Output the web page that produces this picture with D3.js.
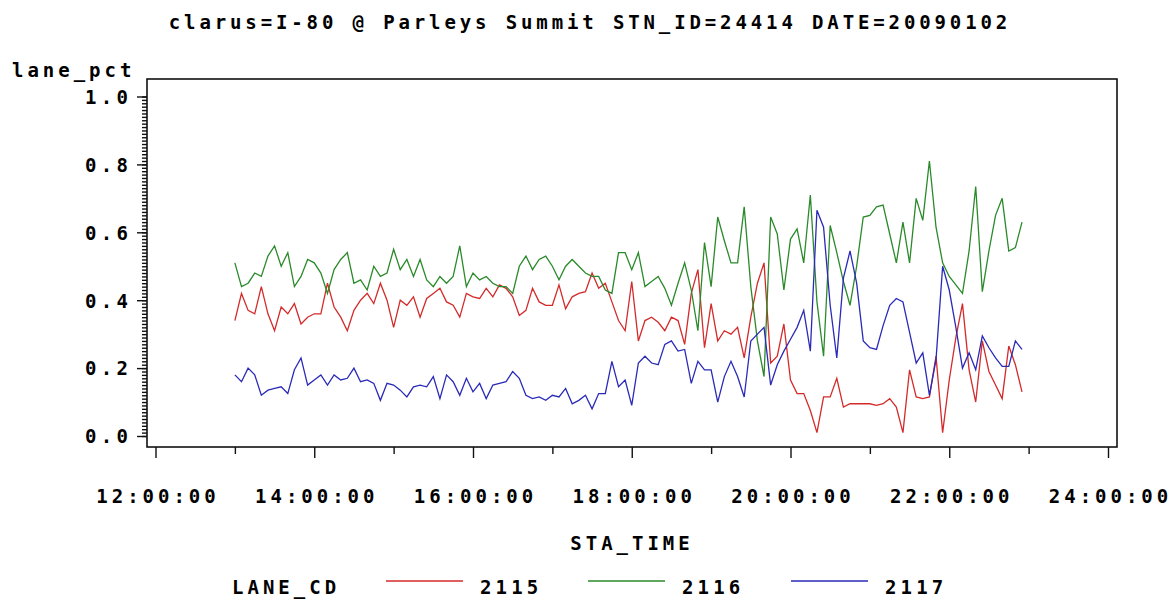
<!DOCTYPE html>
<html>
<head>
<meta charset="utf-8">
<script src="https://cdn.jsdelivr.net/npm/d3@7"></script>
<style>
  body { margin: 0; background: #fff; }
  text { font-family: "DejaVu Sans Mono", monospace; font-weight: bold; fill: #000; }
</style>
</head>
<body>
<div id="chart-area"></div>
<script>
/*
*    lane_pct by STA_TIME
*/

const width = 1175;
const height = 602;

// Data: one reading every 5 minutes, 13:00 to 22:55
const startHour = 13;
const stepMinutes = 5;

const lane2115 = [
    0.34, 0.42, 0.37, 0.36, 0.44, 0.36, 0.31, 0.38, 0.36, 0.39, 0.33, 0.35,
    0.36, 0.36, 0.45, 0.38, 0.35, 0.31, 0.37, 0.40, 0.42, 0.39, 0.45, 0.40,
    0.32, 0.40, 0.385, 0.41, 0.35, 0.405, 0.42, 0.435, 0.395, 0.385, 0.35, 0.42,
    0.41, 0.405, 0.435, 0.41, 0.445, 0.435, 0.41, 0.355, 0.37, 0.435, 0.395, 0.385,
    0.385, 0.445, 0.375, 0.41, 0.42, 0.425, 0.48, 0.435, 0.45, 0.395, 0.34, 0.31,
    0.455, 0.28, 0.34, 0.35, 0.335, 0.31, 0.35, 0.34, 0.27, 0.42, 0.49, 0.26,
    0.39, 0.28, 0.31, 0.30, 0.32, 0.23, 0.35, 0.45, 0.51, 0.215, 0.235, 0.33,
    0.165, 0.125, 0.125, 0.075, 0.01, 0.115, 0.115, 0.17, 0.085, 0.095, 0.095, 0.095,
    0.095, 0.09, 0.095, 0.11, 0.085, 0.01, 0.195, 0.115, 0.11, 0.115, 0.235, 0.01,
    0.165, 0.29, 0.39, 0.195, 0.10, 0.28, 0.19, 0.15, 0.11, 0.265, 0.21, 0.13
];

const lane2116 = [
    0.51, 0.44, 0.45, 0.48, 0.47, 0.53, 0.56, 0.50, 0.54, 0.44, 0.47, 0.52,
    0.51, 0.48, 0.42, 0.49, 0.52, 0.54, 0.45, 0.46, 0.43, 0.50, 0.47, 0.48,
    0.55, 0.49, 0.52, 0.47, 0.52, 0.46, 0.44, 0.47, 0.45, 0.47, 0.56, 0.44,
    0.48, 0.46, 0.47, 0.45, 0.44, 0.44, 0.42, 0.50, 0.53, 0.49, 0.52, 0.53,
    0.50, 0.46, 0.50, 0.52, 0.50, 0.48, 0.47, 0.47, 0.43, 0.42, 0.54, 0.54,
    0.49, 0.54, 0.44, 0.455, 0.47, 0.435, 0.385, 0.45, 0.51, 0.43, 0.31, 0.57,
    0.44, 0.645, 0.575, 0.51, 0.51, 0.675, 0.44, 0.28, 0.175, 0.645, 0.595, 0.43,
    0.58, 0.61, 0.51, 0.71, 0.395, 0.235, 0.62, 0.54, 0.455, 0.385, 0.50, 0.645,
    0.65, 0.675, 0.68, 0.595, 0.51, 0.63, 0.51, 0.70, 0.635, 0.81, 0.615, 0.51,
    0.47, 0.445, 0.42, 0.545, 0.735, 0.425, 0.545, 0.65, 0.70, 0.545, 0.555, 0.63
];

const lane2117 = [
    0.18, 0.16, 0.20, 0.18, 0.12, 0.135, 0.14, 0.145, 0.125, 0.195, 0.23, 0.15,
    0.165, 0.18, 0.15, 0.18, 0.165, 0.17, 0.20, 0.16, 0.165, 0.155, 0.105, 0.155,
    0.15, 0.135, 0.115, 0.145, 0.15, 0.145, 0.175, 0.11, 0.18, 0.16, 0.12, 0.17,
    0.13, 0.155, 0.11, 0.15, 0.155, 0.16, 0.19, 0.17, 0.12, 0.11, 0.115, 0.105,
    0.12, 0.115, 0.14, 0.095, 0.105, 0.12, 0.08, 0.125, 0.125, 0.22, 0.145, 0.165,
    0.09, 0.215, 0.235, 0.215, 0.21, 0.27, 0.28, 0.25, 0.255, 0.155, 0.22, 0.195,
    0.195, 0.10, 0.175, 0.22, 0.175, 0.115, 0.28, 0.30, 0.32, 0.15, 0.21, 0.25,
    0.285, 0.32, 0.37, 0.25, 0.665, 0.615, 0.385, 0.23, 0.465, 0.545, 0.45, 0.28,
    0.26, 0.255, 0.325, 0.385, 0.405, 0.395, 0.305, 0.215, 0.245, 0.12, 0.225, 0.50,
    0.43, 0.32, 0.20, 0.245, 0.195, 0.295, 0.26, 0.23, 0.205, 0.205, 0.28, 0.255
];

const laneCodes = ["2115", "2116", "2117"];
const laneColors = ["#d42a2a", "#2a8a2a", "#2a2ab8"];
const xTickHours = [12, 14, 16, 18, 20, 22, 24];
const xMinorHours = [13, 15, 17, 19, 21, 23];
const yTicks = [0, 0.2, 0.4, 0.6, 0.8, 1.0];

const series = [lane2115, lane2116, lane2117];

// Frame of the plot area
const frame = {left: 147, right: 1117, top: 79, bottom: 447};

const svg = d3.select("#chart-area")
    .append("svg")
    .attr("width", width)
    .attr("height", height);

svg.append("rect")
    .attr("width", "100%")
    .attr("height", "100%")
    .attr("fill", "white");

// spread text like the SAS bitmap font (about 15px per character)
function spread(sel) {
    sel.attr("textLength", function() { return this.textContent.length * 15.3 - 3; })
        .attr("lengthAdjust", "spacing");
}

// Title
svg.append("text")
    .attr("x", 588)
    .attr("y", 29)
    .attr("font-size", "19px")
    .attr("text-anchor", "middle")
    .text("clarus=I-80 @ Parleys Summit STN_ID=24414 DATE=20090102")
    .call(spread);

// X scale (hours)
const x = d3.scaleLinear()
    .domain([12, 24])
    .range([155.5, 1108]);

// Y scale
const y = d3.scaleLinear()
    .domain([0, 1])
    .range([436, 96.5]);

// Frame
svg.append("rect")
    .attr("x", frame.left)
    .attr("y", frame.top)
    .attr("width", frame.right - frame.left)
    .attr("height", frame.bottom - frame.top)
    .attr("fill", "none")
    .attr("stroke", "#111")
    .attr("stroke-width", 1.6);

// X axis, major and minor ticks
const fmtHour = h => (h < 10 ? "0" + h : h) + ":00:00";

const xAxisGroup = svg.append("g")
    .attr("class", "x-axis")
    .attr("transform", "translate(0," + frame.bottom + ")")
    .call(d3.axisBottom(x).tickValues(xTickHours).tickSize(11).tickPadding(0).tickFormat(fmtHour));

svg.append("g")
    .attr("class", "x-axis")
    .attr("transform", "translate(0," + frame.bottom + ")")
    .call(d3.axisBottom(x).tickValues(xMinorHours).tickSize(7).tickFormat(""));

xAxisGroup.selectAll("text")
    .attr("y", 56)
    .attr("dy", 0)
    .attr("font-size", "19px")
    .call(spread);

// Y axis, major and minor ticks
const yAxisGroup = svg.append("g")
    .attr("class", "y-axis")
    .attr("transform", "translate(" + frame.left + ",0)")
    .call(d3.axisLeft(y).tickValues(yTicks).tickSize(10).tickPadding(9).tickFormat(d3.format(".1f")));

svg.append("g")
    .attr("class", "y-axis")
    .attr("transform", "translate(" + frame.left + ",0)")
    .call(d3.axisLeft(y).tickValues(d3.range(0, 101).map(d => d / 100)).tickSize(5).tickFormat(""));

yAxisGroup.selectAll("text")
    .attr("dy", "0.36em")
    .attr("font-size", "19px")
    .call(spread);

svg.selectAll(".x-axis path, .y-axis path").remove();
svg.selectAll(".x-axis line, .y-axis line")
    .attr("stroke", "#111")
    .attr("stroke-width", 1.4);
svg.selectAll(".x-axis text, .y-axis text")
    .attr("fill", "#000")
    .attr("font-family", null);

// Axis labels
svg.append("text")
    .attr("x", 12)
    .attr("y", 77)
    .attr("font-size", "19px")
    .text("lane_pct")
    .call(spread);

svg.append("text")
    .attr("x", 630)
    .attr("y", 550)
    .attr("font-size", "19px")
    .attr("text-anchor", "middle")
    .text("STA_TIME")
    .call(spread);

// Lines
const line = d3.line()
    .x((d, i) => x(startHour + i * stepMinutes / 60))
    .y(d => y(d));

svg.append("g")
    .selectAll("path")
    .data(series)
    .enter().append("path")
    .attr("d", d => line(d))
    .attr("fill", "none")
    .attr("stroke", (d, i) => laneColors[i])
    .attr("stroke-width", 1.3);

// Legend
const legend = svg.append("g")
    .attr("transform", "translate(0, 594)");

legend.append("text")
    .attr("x", 232)
    .attr("y", 0)
    .attr("font-size", "19px")
    .text("LANE_CD")
    .call(spread);

const legendX = [386, 588, 791];

laneCodes.forEach((code, i) => {
    legend.append("line")
        .attr("x1", legendX[i])
        .attr("x2", legendX[i] + 77)
        .attr("y1", -13)
        .attr("y2", -13)
        .attr("stroke", laneColors[i])
        .attr("stroke-width", 1.6);
    legend.append("text")
        .attr("x", legendX[i] + 94)
        .attr("y", 0)
        .attr("font-size", "19px")
        .text(code)
        .call(spread);
});
</script>
</body>
</html>
